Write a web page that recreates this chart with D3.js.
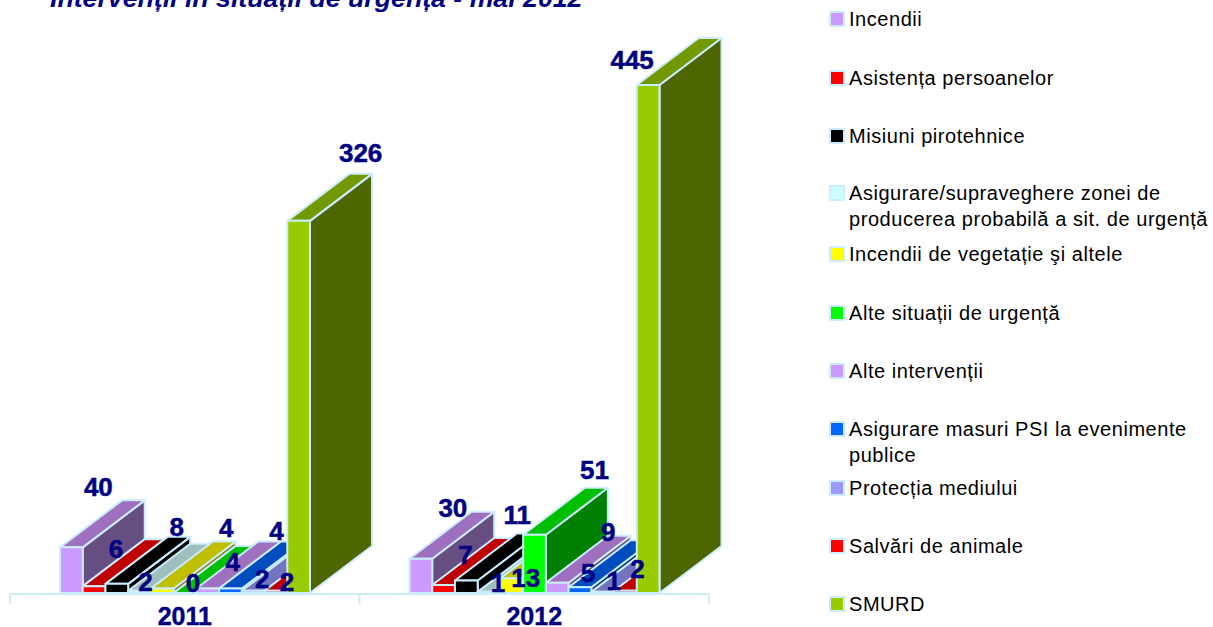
<!DOCTYPE html>
<html><head><meta charset="utf-8">
<script src="https://cdn.jsdelivr.net/npm/d3@7"></script>
<style>html,body{margin:0;padding:0;background:#fff}svg{display:block}text{font-family:"Liberation Sans",Arial,sans-serif}</style>
</head><body><script>
const titleText = "Intervenții în situații de urgență - mai 2012";
const years = ["2011","2012"];
const seriesNames = ["Incendii","Asistența persoanelor","Misiuni pirotehnice",
 "Asigurare/supraveghere zonei de|producerea probabilă a sit. de urgență",
 "Incendii de vegetație şi altele","Alte situații de urgență","Alte intervenții",
 "Asigurare masuri PSI la evenimente|publice","Protecția mediului","Salvări de animale","SMURD"];
const values2011 = [40,6,8,2,4,0,4,4,2,2,326];
const values2012 = [30,7,11,1,13,51,9,5,1,2,445];
const frontColors = ["#CC99FF","#FF0000","#000000","#CCFFFF","#FFFF00","#00FF00","#CC99FF","#0066FF","#9999FF","#FF0000","#99CC00"];
const topColors   = ["#9E70BF","#C00000","#000000","#9FBFBF","#BFBF00","#00BF00","#9E70BF","#004DBF","#7373BF","#C00000","#739900"];
const sideColors  = ["#664F80","#800000","#000000","#668080","#808000","#008000","#664F80","#003380","#4D4D80","#800000","#4D6600"];
const labelOffsets2011 = [[27,-60],[22,-37],[60,-57],[6,-9],[64,-60],[8,-10],[25,-26],[46,-57],[9,-12],[11,-9],[62,-68]];
const labelOffsets2012 = [[32,-51],[22,-30],[51,-65],[9,-9],[14,0],[60,-65],[51,-51],[8,-14],[11,-11],[12,-22],[-16,-25]];
const legendRowY = [19,78,136,193,254,313,371,429,488,546,604];

const W=1213,H=627,depthX=62,depthY=47,navy="#000080",edge="#CCECFF";
const svg=d3.select("body").append("svg").attr("width",W).attr("height",H);
const x0=d3.scaleBand().domain(years).range([10,709]);
const x1=d3.scaleBand().domain(d3.range(seriesNames.length)).range([50,300]);
const y=d3.scaleLinear().domain([0,445]).range([593,85]);
const data=[{year:"2011",vals:values2011,off:labelOffsets2011},{year:"2012",vals:values2012,off:labelOffsets2012}];

// title
svg.append("text").attr("x",50).attr("y",7).attr("fill",navy)
  .attr("font-size",26.7).attr("font-weight","bold").attr("font-style","italic").text(titleText);

// axis
const axisLine=d3.line();
svg.append("path").attr("fill","none").attr("stroke",edge).attr("stroke-width",2)
  .attr("d",axisLine([[x0.range()[0],604],[x0.range()[0],594],[x0.range()[1],594],[x0.range()[1],604]]));
svg.append("path").attr("fill","none").attr("stroke",edge).attr("stroke-width",2)
  .attr("d",axisLine([[x0("2012"),594],[x0("2012"),604]]));

// bars
const line=d3.line();
data.forEach(g=>{
  const gx=x0(g.year), bw=x1.bandwidth();
  const grp=svg.append("g");
  g.vals.forEach((v,i)=>{
    const l=gx+x1(i), r=l+bw, t=y(v), b=y(0);
    const poly=(pts,c)=>grp.append("path").attr("d",line(pts)+"Z").attr("fill",c)
      .attr("stroke",edge).attr("stroke-width",2).attr("stroke-linejoin","round");
    poly([[r,t],[r+depthX,t-depthY],[r+depthX,b-depthY],[r,b]],sideColors[i]);
    poly([[l,t],[l+depthX,t-depthY],[r+depthX,t-depthY],[r,t]],topColors[i]);
    poly([[l,t],[r,t],[r,b],[l,b]],frontColors[i]);
  });
});
// value labels on top of all bars
data.forEach(g=>{
  g.vals.forEach((v,i)=>{
    svg.append("text").attr("x",x0(g.year)+x1(i)+x1.bandwidth()/2+g.off[i][0]).attr("y",y(v)+g.off[i][1])
      .attr("text-anchor","middle").attr("dominant-baseline","central")
      .attr("font-size",26).attr("font-weight","bold").attr("fill",navy)
      .attr("stroke",navy).attr("stroke-width",0.5).text(v);
  });
  svg.append("text").attr("x",x0(g.year)+x0.bandwidth()/2).attr("y",616)
    .attr("text-anchor","middle").attr("dominant-baseline","central")
    .attr("font-size",25).attr("font-weight","bold").attr("fill",navy)
    .attr("stroke",navy).attr("stroke-width",0.4).text(g.year);
});

// legend
seriesNames.forEach((name,i)=>{
  const cy=legendRowY[i];
  svg.append("rect").attr("x",830).attr("y",cy-7).attr("width",14).attr("height",14)
    .attr("fill",frontColors[i]).attr("stroke",edge).attr("stroke-width",2);
  name.split("|").forEach((ln,k)=>{
    svg.append("text").attr("x",849).attr("y",cy+k*25.5).attr("dominant-baseline","central")
      .attr("font-size",20).attr("letter-spacing",0.55).attr("fill","#000").text(ln);
  });
});
</script></body></html>
